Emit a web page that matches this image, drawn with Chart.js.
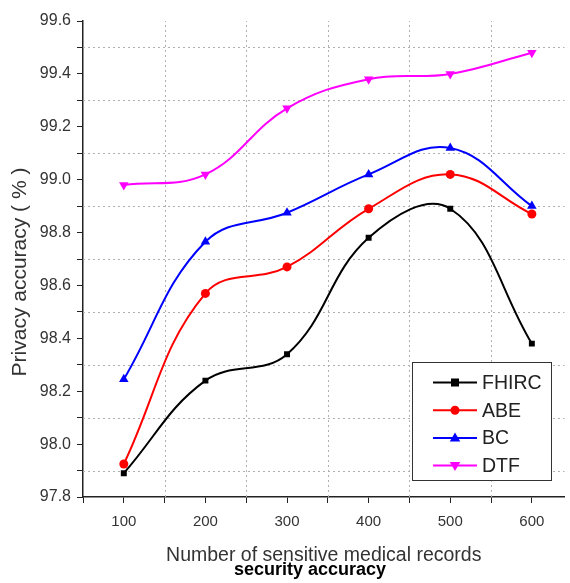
<!DOCTYPE html>
<html>
<head>
<meta charset="utf-8">
<style>
    html, body { margin: 0; padding: 0; background: #fff; }
    #wrap { width: 570px; height: 583px; position: relative; }
</style>
<script src="https://cdn.jsdelivr.net/npm/chart.js"></script>
</head>
<body>
<div id="wrap"><canvas id="chart"></canvas></div>
<script>
const records = [100, 200, 300, 400, 500, 600];
const fhirc = [97.89, 98.24, 98.34, 98.78, 98.89, 98.38];
const abe = [97.925, 98.57, 98.67, 98.89, 99.02, 98.87];
const bc = [98.245, 98.765, 98.875, 99.02, 99.12, 98.90];
const dtf = [98.98, 99.02, 99.27, 99.38, 99.40, 99.48];
const yTickLabels = ['97.8', '98.0', '98.2', '98.4', '98.6', '98.8', '99.0', '99.2', '99.4', '99.6'];
const xTickLabels = ['100', '200', '300', '400', '500', '600'];
const xGrid = [150, 250, 350, 450, 550];
const yGrid = [97.9, 98.1, 98.3, 98.5, 98.7, 98.9, 99.1, 99.3, 99.5];

const FONT = '"Liberation Sans", Arial, sans-serif';

function points(values) {
    return records.map((x, i) => ({ x: x, y: values[i] }));
}

function series(label, values, color, style, rotation) {
    return {
        label: label,
        data: points(values),
        borderColor: color,
        backgroundColor: color,
        borderWidth: 2,
        showLine: true,
        tension: 0.4,
        pointStyle: style,
        pointRotation: rotation || 0,
        pointRadius: style === 'rect' ? 4.2 : (style === 'circle' ? 4.5 : 5.5),
        pointBorderWidth: 0
    };
}

function drawMarker(ctx, style, x, y, r, rotation) {
    ctx.beginPath();
    if (style === 'rect') {
        ctx.rect(x - 4, y - 4, 8, 8);
    } else if (style === 'circle') {
        ctx.arc(x, y, 4.5, 0, Math.PI * 2);
    } else {
        const dir = rotation ? -1 : 1;
        ctx.moveTo(x, y - dir * r * 1.1);
        ctx.lineTo(x - r * 1.05, y + dir * r * 0.7);
        ctx.lineTo(x + r * 1.05, y + dir * r * 0.7);
        ctx.closePath();
    }
    ctx.fill();
}

// dotted grid at the minor positions
const dottedGrid = {
    id: 'dottedGrid',
    beforeDatasetsDraw(chart) {
        const ctx = chart.ctx;
        const area = chart.chartArea;
        const x = chart.scales.x;
        const y = chart.scales.y;
        ctx.save();
        ctx.strokeStyle = '#b0b0b0';
        ctx.lineWidth = 1;
        ctx.setLineDash([2, 3]);
        xGrid.forEach(v => {
            const px = Math.round(x.getPixelForValue(v)) + 0.5;
            ctx.beginPath();
            ctx.moveTo(px, area.bottom);
            ctx.lineTo(px, area.top);
            ctx.stroke();
        });
        yGrid.forEach(v => {
            const py = Math.round(y.getPixelForValue(v)) + 0.5;
            ctx.beginPath();
            ctx.moveTo(area.left, py);
            ctx.lineTo(area.right, py);
            ctx.stroke();
        });
        ctx.restore();
    }
};

// legend box inside the plot, the y title and the caption under the axis title
const extras = {
    id: 'extras',
    afterDraw(chart) {
        const ctx = chart.ctx;
        ctx.save();
        ctx.fillStyle = '#fff';
        ctx.fillRect(412, 362, 139, 118);
        ctx.strokeStyle = '#333';
        ctx.lineWidth = 1;
        ctx.strokeRect(412.5, 362.5, 139, 118);

        chart.data.datasets.forEach((ds, i) => {
            const y = 382.5 + i * 27.7;
            ctx.strokeStyle = ds.borderColor;
            ctx.fillStyle = ds.borderColor;
            ctx.lineWidth = 2;
            ctx.beginPath();
            ctx.moveTo(433, y);
            ctx.lineTo(477, y);
            ctx.stroke();
            drawMarker(ctx, ds.pointStyle, 455, y, 5, ds.pointRotation);
            ctx.fillStyle = '#222';
            ctx.font = '19.5px ' + FONT;
            ctx.textBaseline = 'middle';
            ctx.textAlign = 'left';
            ctx.fillText(ds.label, 482, y + 1);
        });

        ctx.save();
        ctx.translate(26, 272);
        ctx.rotate(-Math.PI / 2);
        ctx.fillStyle = '#333';
        ctx.font = '21px ' + FONT;
        ctx.textAlign = 'center';
        ctx.textBaseline = 'alphabetic';
        ctx.fillText('Privacy accuracy ( % )', 0, 0);
        ctx.restore();

        ctx.fillStyle = '#000';
        ctx.font = 'bold 18px ' + FONT;
        ctx.textAlign = 'center';
        ctx.textBaseline = 'alphabetic';
        ctx.fillText('security accuracy', 310, 575);
        ctx.restore();
    }
};

const isMajorX = v => Math.round(v) % 100 === 0;
const isMajorY = v => Math.round(v * 10) % 2 === 0;

new Chart(document.getElementById('chart'), {
    type: 'scatter',
    data: {
        datasets: [
            series('FHIRC', fhirc, '#000000', 'rect'),
            series('ABE', abe, '#ff0000', 'circle'),
            series('BC', bc, '#0000ff', 'triangle'),
            series('DTF', dtf, '#ff00ff', 'triangle', 180)
        ]
    },
    options: {
        responsive: true,
        maintainAspectRatio: false,
        animation: false,
        layout: { padding: { top: 21, right: 0, left: 0, bottom: 0 } },
        plugins: {
            legend: { display: false },
            tooltip: { enabled: false }
        },
        scales: {
            x: {
                type: 'linear',
                min: 50,
                max: 640,
                afterBuildTicks: scale => {
                    scale.ticks = scale.ticks.filter(t => Math.round(t.value) % 50 === 0 && t.value <= 600);
                },
                afterFit: scale => { scale.height = 86; },
                ticks: {
                    stepSize: 50,
                    includeBounds: false,
                    maxTicksLimit: 40,
                    autoSkip: false,
                    maxRotation: 0,
                    padding: 10,
                    color: '#333',
                    font: { family: FONT, size: 15 },
                    callback: v => isMajorX(v) ? xTickLabels[records.indexOf(Math.round(v))] : ''
                },
                grid: {
                    drawOnChartArea: false,
                    tickColor: '#222',
                    tickLength: 6
                },
                border: { display: true, color: '#222', width: 1.5 },
                title: {
                    display: true,
                    text: 'Number of sensitive medical records',
                    color: '#333',
                    font: { family: FONT, size: 19.5 },
                    padding: { top: 4, bottom: 16 }
                }
            },
            y: {
                min: 97.8,
                max: 99.6,
                afterFit: scale => { scale.width = 83; },
                ticks: {
                    stepSize: 0.1,
                    maxTicksLimit: 40,
                    autoSkip: false,
                    padding: 6,
                    color: '#333',
                    font: { family: FONT, size: 16 },
                    callback: v => isMajorY(v) ? yTickLabels[Math.round((v - 97.8) * 5)] : ''
                },
                grid: {
                    drawOnChartArea: false,
                    tickColor: '#222',
                    tickLength: 6
                },
                border: { display: true, color: '#222', width: 1.5 },
                title: { display: false }
            }
        }
    },
    plugins: [dottedGrid, extras]
});
</script>
</body>
</html>
